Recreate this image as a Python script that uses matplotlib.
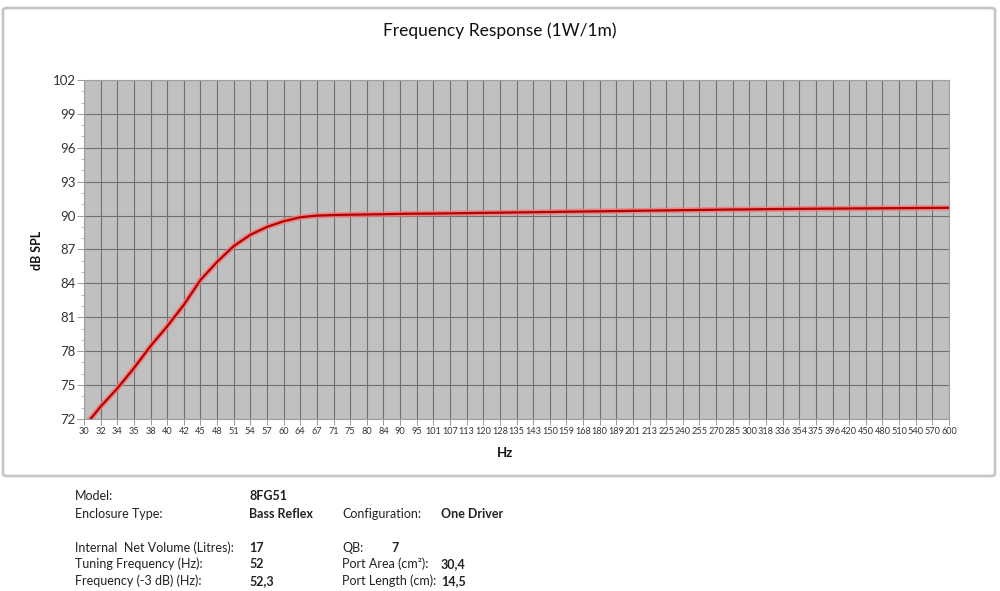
import matplotlib
matplotlib.use("Agg")
import matplotlib.pyplot as plt
from matplotlib.patches import FancyBboxPatch
from matplotlib.ticker import MultipleLocator

freq_labels = ["30", "32", "34", "35", "38", "40", "42", "45", "48", "51", "54", "57",
               "60", "64", "67", "71", "75", "80", "84", "90", "95", "101", "107", "113",
               "120", "128", "135", "143", "150", "159", "168", "180", "189", "201", "213",
               "225", "240", "255", "270", "285", "300", "318", "336", "354", "375", "396",
               "420", "450", "480", "510", "540", "570", "600"]

spl = [71.3, 73.1, 74.7, 76.5, 78.45, 80.2, 82.1, 84.3, 85.9, 87.3, 88.3, 89.0,
       89.5, 89.85, 90.0, 90.05, 90.08, 90.1, 90.12, 90.15, 90.17, 90.18, 90.2, 90.22,
       90.24, 90.26, 90.28, 90.3, 90.32, 90.34, 90.36, 90.38, 90.4, 90.42, 90.44,
       90.46, 90.48, 90.5, 90.52, 90.54, 90.55, 90.57, 90.58, 90.6, 90.61, 90.62,
       90.63, 90.64, 90.65, 90.66, 90.67, 90.68, 90.69]

y_ticks = [72, 75, 78, 81, 84, 87, 90, 93, 96, 99, 102]

title = "Frequency Response (1W/1m)"
x_label = "Hz"
y_label = "dB SPL"

info_rows = [
    (496, [("Model:", 75, False), ("8FG51", 249, True)]),
    (514, [("Enclosure Type:", 75, False), ("Bass Reflex", 249, True),
           ("Configuration:", 342, False), ("One Driver", 441, True)]),
    (548, [("Internal  Net Volume (Litres):", 75, False), ("17", 249, True),
           ("QB:", 342, False), ("7", 391, True)]),
    (564, [("Tuning Frequency (Hz):", 75, False), ("52", 249, True),
           ("Port Area (cm²):", 342, False), ("30,4", 441, True)]),
    (581, [("Frequency (-3 dB) (Hz):", 75, False), ("52,3", 249, True),
           ("Port Length (cm):", 342, False), ("14,5", 441, True)]),
]

plt.rcParams['font.family'] = ['Lato', 'DejaVu Sans']

W, H = 1000, 591
fig = plt.figure(figsize=(W / 100, H / 100), dpi=100)
fig.patch.set_facecolor("white")

# outer frame
frame = FancyBboxPatch((3 / W, 1 - 476 / H), 992 / W, 468 / H,
                       boxstyle="round,pad=0,rounding_size=0.004",
                       transform=fig.transFigure, facecolor="none",
                       edgecolor="#c6c6c6", linewidth=2, zorder=-1)
fig.patches.append(frame)

left, right, top, bottom = 84, 949, 80, 419
ax = fig.add_axes([left / W, 1 - bottom / H, (right - left) / W, (bottom - top) / H])
ax.set_facecolor("#c0c0c0")

x = list(range(len(freq_labels)))
ax.plot(x, spl, color="#f07878", linewidth=4.0, alpha=0.8, solid_capstyle="round",
        solid_joinstyle="round", zorder=3)
ax.plot(x, spl, color="#b80000", linewidth=1.6, solid_joinstyle="round", zorder=4)

ax.set_xlim(0, len(freq_labels) - 1)
ax.set_ylim(72, 102)
ax.set_xticks(x)
ax.set_xticklabels(freq_labels, fontsize=6.6, color="#333333")
ax.set_yticks(y_ticks)
ax.set_yticklabels([str(v) for v in y_ticks], fontsize=9.5, color="#333333")
ax.yaxis.set_minor_locator(MultipleLocator(1))
ax.tick_params(axis="x", length=4, width=0.7, color="#999999", pad=2)
ax.tick_params(axis="y", which="major", length=5, width=0.7, color="#999999", pad=1)
ax.tick_params(axis="y", which="minor", length=2, width=0.6, color="#aaaaaa")

ax.grid(True, which="major", color="#707070", linewidth=0.8)
ax.set_axisbelow(True)
for s in ax.spines.values():
    s.set_color("#a0a0a0")
    s.set_linewidth(0.8)

fig.text(500 / W, 1 - 31 / H, title, ha="center", va="center", fontsize=12.5,
         color="#111111")
fig.text(505 / W, 1 - 453 / H, x_label, ha="center", va="center", fontsize=9.5,
         fontweight="bold", color="#111111")
fig.text(37 / W, 1 - 250 / H, y_label, ha="center", va="center", fontsize=9,
         fontweight="bold", rotation=90, color="#111111")

for ypix, items in info_rows:
    for txt, xpix, bold in items:
        fig.text(xpix / W, 1 - ypix / H, txt, ha="left", va="center", fontsize=9,
                 fontweight="bold" if bold else "normal", color="#222222")

fig.savefig("out.png", dpi=100)
